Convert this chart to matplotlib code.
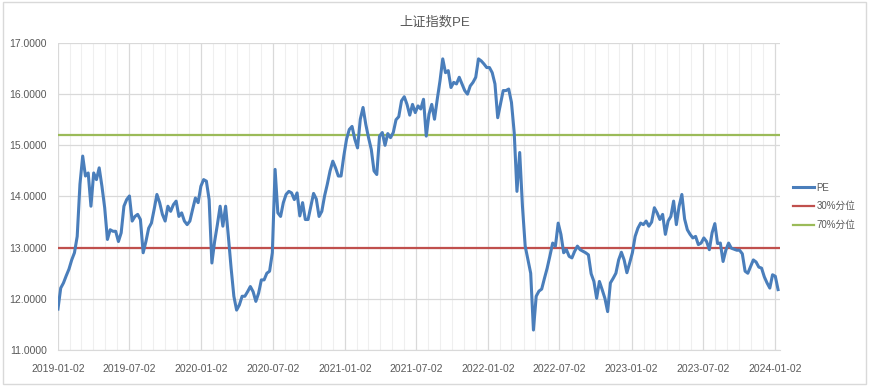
import matplotlib
matplotlib.use('Agg')
import matplotlib.pyplot as plt
import matplotlib.dates as mdates
import matplotlib.patches as patches
import pandas as pd

plt.rcParams['font.family'] = ['Liberation Sans', 'Noto Sans CJK SC', 'DejaVu Sans']

# weekly PE readings of the Shanghai Composite, starting 2019-01-02
start_date = '2019-01-02'
pe = [
    11.80, 12.21, 12.31, 12.45, 12.58, 12.76, 12.90, 13.22, 14.24, 14.79,
    14.40, 14.46, 13.81, 14.46, 14.33, 14.56, 14.20, 13.78, 13.16, 13.35,
    13.32, 13.32, 13.12, 13.29, 13.81, 13.94, 14.01, 13.52, 13.61, 13.65,
    13.55, 12.90, 13.12, 13.38, 13.48, 13.75, 14.04, 13.88, 13.65, 13.52,
    13.81, 13.71, 13.84, 13.91, 13.61, 13.68, 13.52, 13.45, 13.52, 13.75,
    13.97, 13.88, 14.20, 14.33, 14.30, 13.94, 12.70, 13.12, 13.45, 13.81,
    13.42, 13.81, 13.22, 12.60, 12.05, 11.78, 11.88, 12.05, 12.05, 12.14,
    12.24, 12.14, 11.95, 12.11, 12.37, 12.37, 12.50, 12.54, 12.90, 14.53,
    13.68, 13.61, 13.88, 14.04, 14.10, 14.07, 13.94, 14.07, 13.62, 13.88,
    13.55, 13.55, 13.81, 14.06, 13.95, 13.61, 13.71, 14.01, 14.24, 14.50,
    14.69, 14.56, 14.40, 14.40, 14.79, 15.12, 15.31, 15.37, 15.12, 14.95,
    15.51, 15.74, 15.41, 15.15, 14.92, 14.50, 14.43, 15.18, 15.25, 15.00,
    15.23, 15.15, 15.25, 15.50, 15.56, 15.87, 15.95, 15.80, 15.59, 15.80,
    15.64, 15.77, 15.71, 15.90, 15.18, 15.61, 15.80, 15.51, 15.90, 16.26,
    16.69, 16.42, 16.46, 16.13, 16.23, 16.20, 16.33, 16.20, 16.07, 16.00,
    16.16, 16.23, 16.33, 16.69, 16.65, 16.59, 16.52, 16.52, 16.42, 16.20,
    15.54, 15.80, 16.07, 16.07, 16.10, 15.84, 15.25, 14.10, 14.86, 13.81,
    13.03, 12.76, 12.50, 11.39, 12.05, 12.15, 12.19, 12.40, 12.60, 12.84,
    13.09, 13.03, 13.48, 13.26, 12.90, 12.96, 12.83, 12.80, 12.93, 13.03,
    12.96, 12.93, 12.90, 12.86, 12.49, 12.34, 12.01, 12.34, 12.18, 12.01,
    11.75, 12.31, 12.40, 12.50, 12.76, 12.91, 12.76, 12.51, 12.70, 12.90,
    13.22, 13.38, 13.48, 13.45, 13.52, 13.42, 13.50, 13.78, 13.68, 13.55,
    13.65, 13.26, 13.52, 13.61, 13.91, 13.45, 13.81, 14.04, 13.56, 13.35,
    13.26, 13.19, 13.22, 13.06, 13.09, 13.19, 13.12, 12.96, 13.29, 13.47,
    13.08, 13.09, 12.73, 12.95, 13.09, 12.99, 12.97, 12.95, 12.95, 12.88,
    12.54, 12.50, 12.63, 12.76, 12.72, 12.62, 12.60, 12.43, 12.31, 12.21,
    12.47, 12.44, 12.18,
]
pct30 = 13.0
pct70 = 15.2

labels = ['PE', '30%分位', '70%分位']
title = '上证指数PE'

dates = pd.date_range(start_date, periods=len(pe), freq='7D')

fig = plt.figure(figsize=(8.69, 3.86), dpi=100)
ax = fig.add_axes([0.0667, 0.0933, 0.8309, 0.7953])

ax.plot(dates, pe, color='#4A7EBB', lw=2.2, label=labels[0], zorder=3)
ax.axhline(pct30, color='#C0504D', lw=1.6, label=labels[1], zorder=2)
ax.axhline(pct70, color='#9BBB59', lw=1.6, label=labels[2], zorder=2)

ax.set_ylim(11, 17)
ax.set_yticks(range(11, 18))
ax.yaxis.set_major_formatter(plt.FuncFormatter(lambda v, p: f'{v:.4f}'))
ax.set_xlim(pd.Timestamp('2019-01-02'), pd.Timestamp('2024-01-15'))
ax.xaxis.set_major_locator(mdates.MonthLocator(bymonth=[1, 7], bymonthday=2))
ax.xaxis.set_minor_locator(mdates.MonthLocator(bymonthday=2))
ax.xaxis.set_major_formatter(mdates.DateFormatter('%Y-%m-%d'))

ax.grid(axis='y', color='#D9D9D9', lw=0.9)
ax.grid(axis='x', which='major', color='#D9D9D9', lw=0.9)
ax.grid(axis='x', which='minor', color='#EFEFEF', lw=0.8)
for s in ['top', 'right', 'left']:
    ax.spines[s].set_visible(False)
ax.spines['bottom'].set_color('#D9D9D9')
ax.tick_params(which='both', length=0, labelsize=7.5, colors='#595959')
ax.tick_params(axis='x', pad=10)
ax.tick_params(axis='y', pad=8)

fig.text(0.5, 0.943, title, ha='center', va='center', fontsize=9.5, color='#595959')

fig.legend(loc='upper left', bbox_to_anchor=(0.913, 0.527), frameon=False,
           fontsize=7, handlelength=2.1, handletextpad=0.3, labelspacing=0.9,
           borderpad=0, borderaxespad=0, labelcolor='#595959')

fig.patches.append(patches.Rectangle((0.004, 0.006), 0.992, 0.988, transform=fig.transFigure,
                                     fill=False, edgecolor='#D9D9D9', lw=1))

fig.savefig('out.png', dpi=100)
